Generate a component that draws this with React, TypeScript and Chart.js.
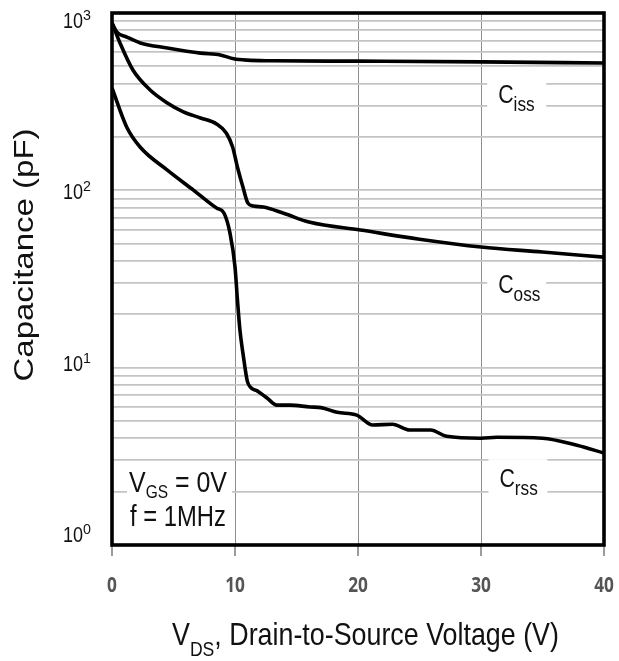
import { useEffect, useRef } from "react";
import { Chart, registerables } from "chart.js";

Chart.register(...registerables);

const FONT = '"Liberation Sans", Arial, sans-serif';

// ---- data (VDS in volts, capacitance in pF) ----
const CISS_VDS = [0, 0.4, 1.2, 2.3, 4.5, 7.2, 8.8, 9.9, 11, 13, 20, 30, 40];
const CISS_PF = [880, 780, 732, 678, 635, 594, 580, 552, 542, 538, 535, 530, 522];

const COSS_VDS = [0, 0.65, 1.7, 3.1, 4.5, 5.8, 7.2, 8.5, 9.3, 9.8, 10.2, 10.65, 11.05, 11.5, 12.3, 13.9, 16.1, 20.2, 25, 30, 35, 40];
const COSS_PF = [880, 677, 477, 368, 311, 277, 256, 237, 210, 176, 135, 104, 84.7, 81.5, 80.5, 74.5, 66, 59.7, 53, 47.9, 44.9, 42];

const CRSS_VDS = [0, 1.2, 2.3, 4.5, 6.6, 8.5, 9.1, 9.6, 10.0, 10.2, 10.4, 10.65, 11.0, 11.3, 11.8, 12.6, 13.4, 14.5, 16.1, 17.0, 18.3, 19.9, 21.2, 22.8, 24.2, 25.9, 27.2, 30, 31.3, 35, 37.8, 40];
const CRSS_PF = [378, 227, 175, 130, 100.5, 79.4, 74.5, 57, 37, 24, 16.3, 12, 8.4, 7.7, 7.4, 6.75, 6.15, 6.15, 6.0, 5.95, 5.6, 5.4, 4.75, 4.8, 4.45, 4.45, 4.1, 4.0, 4.05, 4.0, 3.65, 3.3];

const X_TICKS = [0, 10, 20, 30, 40];
const X_TICK_LABELS = ["0", "10", "20", "30", "40"];
const Y_MAJOR = [1, 10, 100, 1000];
const Y_TICK_BASE = ["10", "10", "10", "10"];
const Y_TICK_EXP = ["0", "1", "2", "3"];
const Y_MINOR_MULT = [1, 2, 3, 4, 5, 6, 7, 8, 9];

// curve labels: name, subscript, anchor (VDS, pF) of label baseline-left
const CURVE_NAMES = ["C", "C", "C"];
const CURVE_SUBS = ["iss", "oss", "rss"];
const CURVE_LABEL_X = [31.4, 31.4, 31.5];
const CURVE_LABEL_Y = [311, 26.4, 2.12];

const X_TITLE_MAIN = "V";
const X_TITLE_SUB = "DS";
const X_TITLE_REST = ", Drain-to-Source Voltage (V)";
const Y_TITLE = "Capacitance (pF)";
const NOTE_LINE1 = ["V", "GS", " = 0V"];
const NOTE_LINE2 = "f = 1MHz";

const Y_GRID: number[] = [];
for (let d = 0; d < 3; d++) for (const m of Y_MINOR_MULT) Y_GRID.push(m * Y_MAJOR[d]);
Y_GRID.push(Y_MAJOR[3]);

type Seg = { t: string; size: number; dy: number };

function drawRich(
  ctx: CanvasRenderingContext2D,
  segs: Seg[],
  x: number,
  y: number,
  align: "left" | "center" | "right",
  sx: number,
  color: string,
  weight = "normal",
  family = FONT
) {
  ctx.save();
  ctx.textAlign = "left";
  ctx.textBaseline = "alphabetic";
  const widths = segs.map((s) => {
    ctx.font = `${weight} ${s.size}px ${family}`;
    return ctx.measureText(s.t).width;
  });
  const total = widths.reduce((a, b) => a + b, 0) * sx;
  const start = align === "left" ? x : align === "center" ? x - total / 2 : x - total;
  ctx.translate(start, y);
  ctx.scale(sx, 1);
  ctx.fillStyle = color;
  let cx = 0;
  segs.forEach((s, i) => {
    ctx.font = `${weight} ${s.size}px ${family}`;
    ctx.fillText(s.t, cx, s.dy);
    cx += widths[i];
  });
  ctx.restore();
}

const decorPlugin = {
  id: "decor",
  beforeDatasetsDraw(chart: any) {
    const ctx: CanvasRenderingContext2D = chart.ctx;
    const xs = chart.scales.x;
    const ys = chart.scales.y;
    const area = chart.chartArea;
    ctx.save();
    ctx.fillStyle = "#ffffff";
    for (let i = 0; i < CURVE_NAMES.length; i++) {
      const px = xs.getPixelForValue(CURVE_LABEL_X[i]);
      const py = ys.getPixelForValue(CURVE_LABEL_Y[i]);
      ctx.fillRect(px - 11, py - 28, 59, 42);
    }
    // note box
    ctx.fillRect(area.left + 15, area.bottom - 79, 105, 75);
    ctx.restore();
  },
  afterDatasetsDraw(chart: any) {
    const ctx: CanvasRenderingContext2D = chart.ctx;
    const area = chart.chartArea;
    const xs = chart.scales.x;
    ctx.save();
    // x tick marks
    ctx.strokeStyle = "#7a7a7a";
    ctx.lineWidth = 1.5;
    for (const v of X_TICKS) {
      const px = xs.getPixelForValue(v);
      ctx.beginPath();
      ctx.moveTo(px, area.bottom);
      ctx.lineTo(px, area.bottom + 11);
      ctx.stroke();
    }
    // frame
    ctx.strokeStyle = "#000000";
    ctx.lineWidth = 3.6;
    ctx.strokeRect(area.left, area.top, area.right - area.left, area.bottom - area.top);
    ctx.restore();
  },
  afterDraw(chart: any) {
    const ctx: CanvasRenderingContext2D = chart.ctx;
    const area = chart.chartArea;
    const xs = chart.scales.x;
    const ys = chart.scales.y;
    const h = area.bottom - area.top;

    // y tick labels with superscripts
    for (let i = 0; i < Y_MAJOR.length; i++) {
      const py = ys.getPixelForValue(Y_MAJOR[i]);
      const frac = (py - area.top) / h;
      const base = py + 15 - 18 * frac;
      ctx.save();
      ctx.font = `15px ${FONT}`;
      const ew = ctx.measureText(Y_TICK_EXP[i]).width * 0.95;
      ctx.restore();
      const right = area.left - 21;
      drawRich(ctx, [{ t: Y_TICK_EXP[i], size: 15, dy: 0 }], right, base - 8, "right", 0.95, "#111111");
      drawRich(ctx, [{ t: Y_TICK_BASE[i], size: 22, dy: 0 }], right - ew, base, "right", 0.82, "#111111");
    }

    // x tick labels
    for (let i = 0; i < X_TICKS.length; i++) {
      const px = xs.getPixelForValue(X_TICKS[i]);
      drawRich(ctx, [{ t: X_TICK_LABELS[i], size: 21, dy: 0 }], px, area.bottom + 47, "center", 0.82, "#555555", "700", '"Open Sans", sans-serif');
    }

    // x title
    drawRich(
      ctx,
      [
        { t: X_TITLE_MAIN, size: 30.5, dy: 0 },
        { t: X_TITLE_SUB, size: 20, dy: 11 },
        { t: X_TITLE_REST, size: 30.5, dy: 0 },
      ],
      area.left + 60,
      area.bottom + 100,
      "left",
      0.88,
      "#111111"
    );

    // y title (rotated)
    ctx.save();
    ctx.translate(33, (area.top + area.bottom) / 2 - 24);
    ctx.rotate(-Math.PI / 2);
    ctx.scale(1, 0.85);
    ctx.font = `33px ${FONT}`;
    ctx.fillStyle = "#111111";
    ctx.textAlign = "center";
    ctx.textBaseline = "alphabetic";
    ctx.fillText(Y_TITLE, 0, 0);
    ctx.restore();

    // curve labels
    for (let i = 0; i < CURVE_NAMES.length; i++) {
      const px = xs.getPixelForValue(CURVE_LABEL_X[i]);
      const py = ys.getPixelForValue(CURVE_LABEL_Y[i]);
      drawRich(
        ctx,
        [
          { t: CURVE_NAMES[i], size: 26, dy: 0 },
          { t: CURVE_SUBS[i], size: 21, dy: 8 },
        ],
        px,
        py,
        "left",
        0.82,
        "#111111"
      );
    }

    // note
    const cx = area.left + 66;
    const b1 = area.bottom - 53;
    drawRich(
      ctx,
      [
        { t: NOTE_LINE1[0], size: 29, dy: 0 },
        { t: NOTE_LINE1[1], size: 18, dy: 6 },
        { t: NOTE_LINE1[2], size: 29, dy: 0 },
      ],
      cx,
      b1,
      "center",
      0.86,
      "#111111"
    );
    drawRich(ctx, [{ t: NOTE_LINE2, size: 29, dy: 0 }], cx, b1 + 34, "center", 0.82, "#111111");
  },
};

function series(xs: number[], ys: number[]) {
  return xs.map((x, i) => ({ x, y: ys[i] }));
}

export default function App() {
  const ref = useRef<HTMLCanvasElement | null>(null);
  useEffect(() => {
    if (!ref.current) return;
    const common = {
      borderColor: "#000000",
      borderWidth: 3.6,
      pointRadius: 0,
      fill: false,
      cubicInterpolationMode: "monotone" as const,
    };
    const chart = new Chart(ref.current, {
      type: "line",
      data: {
        datasets: [
          { label: "Ciss", data: series(CISS_VDS, CISS_PF), ...common },
          { label: "Coss", data: series(COSS_VDS, COSS_PF), ...common },
          { label: "Crss", data: series(CRSS_VDS, CRSS_PF), ...common },
        ],
      },
      options: {
        animation: false,
        responsive: true,
        maintainAspectRatio: false,
        layout: { padding: { top: 13, right: 15, left: 0, bottom: 0 } },
        plugins: { legend: { display: false }, tooltip: { enabled: false } },
        scales: {
          x: {
            type: "linear",
            min: 0,
            max: 40,
            afterBuildTicks: (s: any) => {
              s.ticks = X_TICKS.map((v) => ({ value: v }));
            },
            afterFit: (s: any) => {
              s.height = 116;
            },
            ticks: { display: false },
            grid: { color: "#8e8e8e", lineWidth: 1, drawTicks: false },
            border: { display: false },
          },
          y: {
            type: "logarithmic",
            min: 1,
            max: 1000,
            afterBuildTicks: (s: any) => {
              s.ticks = Y_GRID.map((v) => ({ value: v }));
            },
            afterFit: (s: any) => {
              s.width = 112;
            },
            ticks: { display: false },
            grid: { color: "#c4c4c4", lineWidth: 1.8, drawTicks: false },
            border: { display: false },
          },
        },
      } as any,
      plugins: [decorPlugin],
    });
    return () => chart.destroy();
  }, []);
  return (
    <div style={{ position: "fixed", left: 0, top: 0, width: 619, height: 661, background: "#ffffff" }}>
      <canvas ref={ref} />
    </div>
  );
}
